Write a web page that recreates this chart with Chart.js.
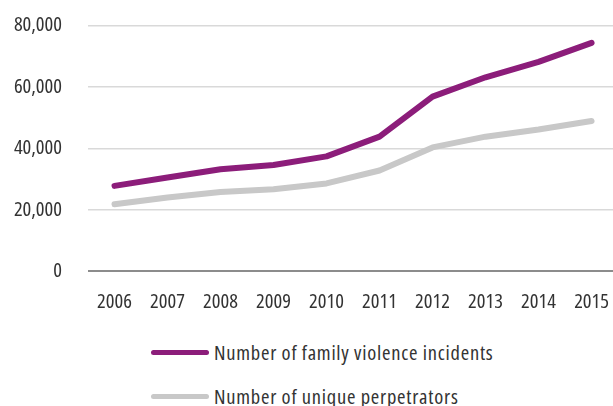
<!DOCTYPE html>
<html>
<head>
<meta charset="utf-8">
<script src="https://cdn.jsdelivr.net/npm/chart.js@4.4.0/dist/chart.umd.min.js"></script>
<style>
  html, body { margin: 0; padding: 0; background: #fff; overflow: hidden; width: 613px; height: 406px; }
  #wrap { position: relative; width: 619px; height: 337px; margin-top: -13px; }
  #legend { position: absolute; left: 151px; top: 330px; font-family: 'Open Sans', sans-serif; font-stretch: condensed; font-weight: 400; font-size: 20.5px; letter-spacing: 0.75px; color: #333; }
  .item { display: flex; align-items: center; height: 44px; }
  .swatch { width: 58px; height: 5px; border-radius: 3px; margin-right: 5px; }
</style>
</head>
<body>
<div id="wrap"><canvas id="grafico" width="619" height="337"></canvas></div>
<div id="legend"></div>
<script>
const anos = ["2006", "2007", "2008", "2009", "2010", "2011", "2012", "2013", "2014", "2015"]
const incidentes = [27800, 30500, 33200, 34600, 37400, 43800, 56800, 63100, 68100, 74300]
const perpetradores = [21800, 24000, 25800, 26700, 28600, 32800, 40300, 43800, 46100, 48900]
const ticksY = [0, 20000, 40000, 60000, 80000]

// o Chart.js so aceita "condensed" dentro do weight, o style e validado
const fonte = { family: "'Open Sans', sans-serif", size: 20.5, weight: "400 condensed" }

let myChart

function desenharGrafico() {
    myChart = new Chart(
        document.getElementById("grafico"),
        {
            type: "line",
            data: {
                labels: anos,
                datasets: [
                    {
                        label: "Number of family violence incidents",
                        data: incidentes,
                        borderColor: "#8c1d7a",
                        backgroundColor: "#8c1d7a",
                        borderWidth: 6,
                        pointRadius: 0,
                        borderCapStyle: "round",
                        borderJoinStyle: "round",
                        tension: 0,
                    },
                    {
                        label: "Number of unique perpetrators",
                        data: perpetradores,
                        borderColor: "#c8c8c8",
                        backgroundColor: "#c8c8c8",
                        borderWidth: 6,
                        pointRadius: 0,
                        borderCapStyle: "round",
                        borderJoinStyle: "round",
                        tension: 0,
                    }
                ]
            },
            options: {
                responsive: false,
                animation: false,
                layout: { padding: { top: 2, bottom: 0, left: 0, right: 0 } },
                plugins: {
                    legend: { display: false },
                    tooltip: { enabled: false }
                },
                scales: {
                    x: {
                        offset: true,
                        grid: { display: false },
                        border: { display: false },
                        ticks: { font: fonte, color: "#333", padding: 10, maxRotation: 0 }
                    },
                    y: {
                        min: 0,
                        max: 80000,
                        afterBuildTicks: scale => { scale.ticks = ticksY.map(v => ({ value: v })) },
                        afterFit: scale => { scale.width = 88 },
                        border: { display: false },
                        grid: {
                            drawTicks: false,
                            color: ctx => ctx.tick && ctx.tick.value === 0 ? "#8c8c8c" : "#d9d9d9",
                            lineWidth: ctx => ctx.tick && ctx.tick.value === 0 ? 2 : 1.5
                        },
                        ticks: {
                            font: fonte,
                            color: "#333",
                            padding: 26,
                            callback: v => Number(v).toLocaleString("en-US")
                        }
                    }
                }
            }
        }
    )

    const legenda = document.getElementById("legend")
    myChart.data.datasets.forEach(ds => {
        const item = document.createElement("div")
        item.className = "item"
        item.innerHTML = `<span class="swatch" style="background:${ds.borderColor}"></span><span>${ds.label}</span>`
        legenda.appendChild(item)
    })
}

desenharGrafico()
</script>
</body>
</html>
